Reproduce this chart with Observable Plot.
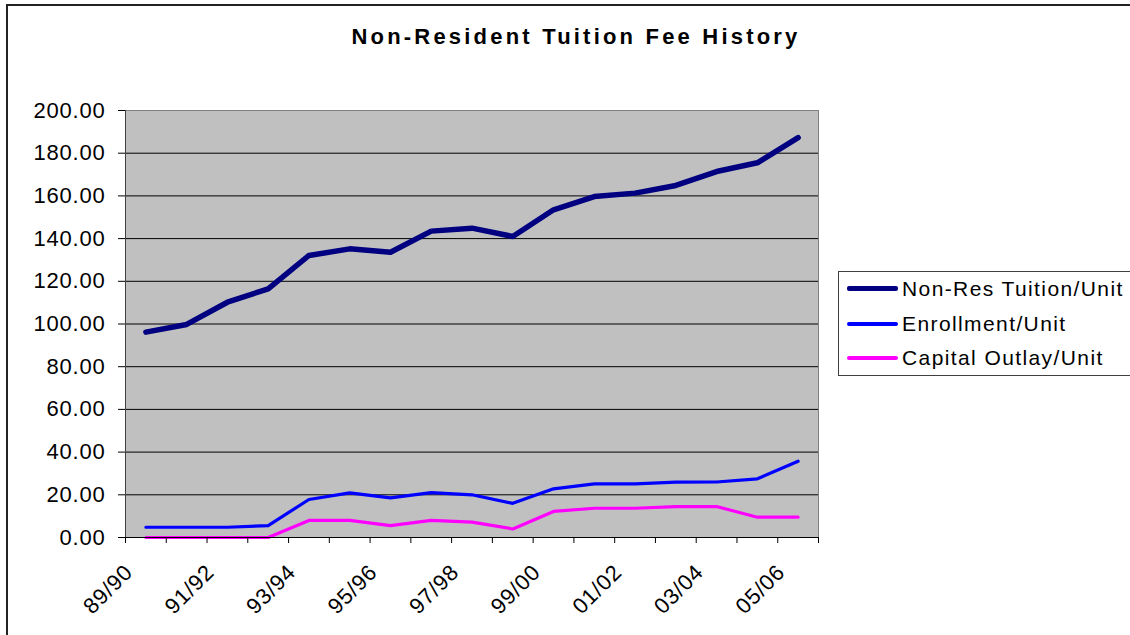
<!DOCTYPE html>
<html>
<head>
<meta charset="utf-8">
<script src="https://cdn.jsdelivr.net/npm/d3@7"></script>
<script src="https://cdn.jsdelivr.net/npm/@observablehq/plot@0.6"></script>
<style>
  body { margin: 0; background: #fff; font-family: "Liberation Sans", Arial, sans-serif; }
  #wrap { position: relative; width: 1130px; height: 635px; overflow: hidden; background: #fff; }
  #frameBorder { position: absolute; left: 6px; top: 4px; width: 1200px; height: 700px;
    border-top: 2px solid #222; border-left: 2px solid #222; box-sizing: border-box; }
  #title { position: absolute; left: 0; width: 1152px; top: 26px; text-align: center;
    font-weight: bold; font-size: 22px; line-height: 22px; letter-spacing: 3.2px; color: #000; }
  #chart { position: absolute; left: 0; top: 0; }
  #chart svg text { letter-spacing: 0.8px; }
  #legend { position: absolute; left: 838px; top: 271px; width: 400px; height: 105px;
    border: 1px solid #404040; background: #fff; box-sizing: border-box; }
  .item { position: absolute; left: 0; height: 24px; display: flex; align-items: center;
    font-size: 21px; letter-spacing: 1.4px; color: #000; white-space: nowrap; }
  .sw { display: inline-block; width: 51px; margin-left: 8px; margin-right: 4px; }
</style>
</head>
<body>
<div id="wrap">
  <div id="frameBorder"></div>
  <div id="chart"></div>
  <div id="title"></div>
  <div id="legend"></div>
</div>
<script>
const chartTitle = "Non-Resident Tuition Fee History";
const years = ["89/90","90/91","91/92","92/93","93/94","94/95","95/96","96/97","97/98",
               "98/99","99/00","00/01","01/02","02/03","03/04","04/05","05/06"];
const tuition    = [96.2, 99.8, 110.2, 116.5, 132.1, 135.2, 133.6, 143.5, 144.9, 141.0,
                    153.5, 159.7, 161.3, 164.9, 171.4, 175.5, 187.3];
const enrollment = [4.8, 4.8, 4.8, 5.6, 17.8, 20.9, 18.6, 21.0, 20.0, 16.0,
                    22.8, 25.1, 25.1, 25.9, 26.0, 27.5, 35.7];
const capital    = [0, 0, 0, 0, 8.0, 8.0, 5.6, 8.0, 7.2, 4.0,
                    12.2, 13.7, 13.7, 14.5, 14.5, 9.5, 9.5];
const seriesNames  = ["Non-Res Tuition/Unit", "Enrollment/Unit", "Capital Outlay/Unit"];
const seriesValues = [tuition, enrollment, capital];
const seriesColors = ["#000080", "#0000FF", "#FF00FF"];
const seriesWidths = [5.5, 3.2, 3.2];
const yTicks = [0, 20, 40, 60, 80, 100, 120, 140, 160, 180, 200];

const rows = [];
seriesNames.forEach((name, s) => {
  seriesValues[s].forEach((v, i) => rows.push({series: name, i, year: years[i], value: v}));
});

const boundaries = d3.range(0, years.length + 1);
const labelIdx = d3.range(0, years.length, 2);

const chart = Plot.plot({
  width: 1130,
  height: 635,
  marginLeft: 125,
  marginRight: 312,
  marginTop: 110,
  marginBottom: 98,
  x: {type: "linear", domain: [0, years.length], label: null},
  y: {domain: [0, 200], label: null},
  color: {domain: seriesNames, range: seriesColors},
  style: {fontFamily: "'Liberation Sans', Arial, sans-serif", background: "transparent", overflow: "visible"},
  marks: [
    Plot.frame({fill: "#C0C0C0", stroke: "#808080"}),
    Plot.ruleY(yTicks.filter(v => v > 0 && v < 200), {stroke: "#000", strokeWidth: 1}),
    ...seriesNames.map((name, s) =>
      Plot.line(rows.filter(r => r.series === name), {
        x: d => d.i + 0.5, y: "value", stroke: "series",
        strokeWidth: seriesWidths[s], strokeLinejoin: "round", strokeLinecap: "round"
      })
    ),
    Plot.ruleY([0], {stroke: "#000"}),
    Plot.ruleX([0], {stroke: "#404040"}),
    Plot.axisX(boundaries, {anchor: "bottom", tickSize: 6, tickFormat: () => "", stroke: "#000", label: null}),
    Plot.text(labelIdx, {
      x: d => d, frameAnchor: "bottom", text: i => years[i],
      rotate: -45, textAnchor: "end", lineAnchor: "middle",
      dx: 3.5, dy: 31, fontSize: 22, fill: "#000"
    }),
    Plot.axisY(yTicks, {
      anchor: "left", tickSize: 7, tickPadding: 13, stroke: "#000",
      tickFormat: d => d.toFixed(2), fontSize: 22, label: null
    })
  ]
});
document.getElementById("chart").appendChild(chart);
document.getElementById("title").textContent = chartTitle;

const legend = document.getElementById("legend");
const itemTops = [4.5, 40, 74];
seriesNames.forEach((name, s) => {
  const item = document.createElement("div");
  item.className = "item";
  item.style.top = itemTops[s] + "px";
  const sw = document.createElement("span");
  sw.className = "sw";
  sw.style.height = seriesWidths[s] + "px";
  sw.style.background = seriesColors[s];
  sw.style.borderRadius = "2px";
  const label = document.createElement("span");
  label.textContent = name;
  item.appendChild(sw);
  item.appendChild(label);
  legend.appendChild(item);
});
</script>
</body>
</html>
